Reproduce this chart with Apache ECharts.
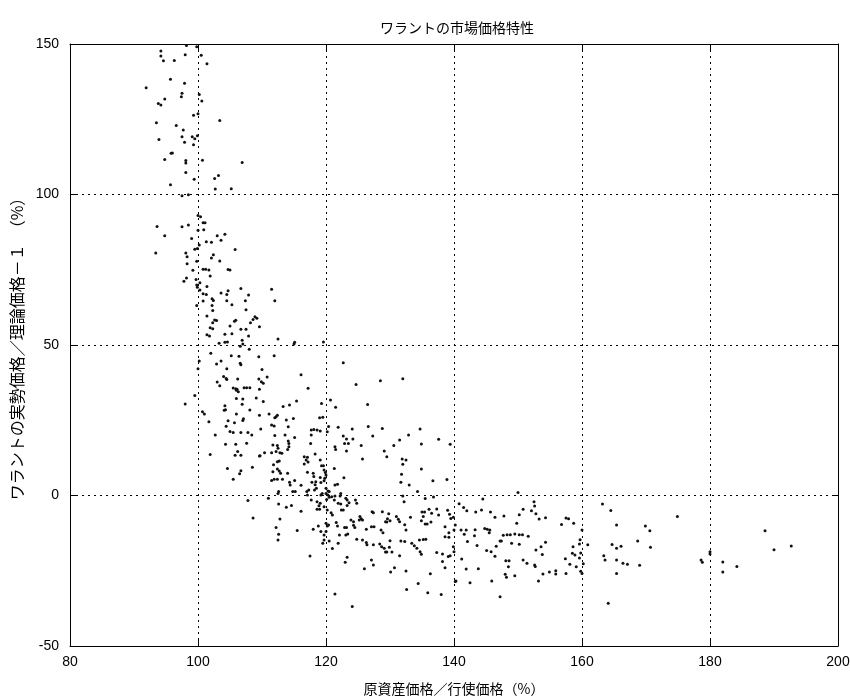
<!DOCTYPE html>
<html>
<head>
<meta charset="utf-8">
<script src="https://cdn.jsdelivr.net/npm/echarts@6/dist/echarts.min.js"></script>
<style>
html,body{margin:0;padding:0;background:#fff;}
#chart{width:850px;height:698px;}
</style>
</head>
<body>
<div id="chart"></div>
<script>
// Texts
var chartTitle = 'ワラントの市場価格特性';
var xAxisName = '原資産価格／行使価格（%）';
var yAxisName = 'ワラントの実勢価格／理論価格－１　（%）';

// Axis ranges / ticks
var xTicks = [80, 100, 120, 140, 160, 180, 200];
var yTicks = [-50, 0, 50, 100, 150];

// Data points [underlying/exercise %, market/theoretical - 1 %], grouped by region
var pointsHigh = [[98.2,149.5],[99.8,149.1],[94.2,147.7],[94.2,146],[94.6,144.4],[98.0,146.4],[96.3,144.5],[100.5,146.3],[101.4,143.4],[95.7,138.3],[97.9,137],[91.9,135.5],[97.5,133.6],[97.4,132.5],[100.2,133.2],[100.6,131.1],[94.8,131.7],[93.8,130.2],[94.2,129.7],[99.3,126.3],[100,126.8],[103.4,124.6],[93.5,123.8],[96.6,122.9],[97.7,121.4],[97.5,119.2],[93.9,118.3],[99.1,119.2],[99.5,118.5],[99.9,119.5],[97.9,117.4],[99.3,116.5],[95.8,113.7],[96.0,113.8],[94.8,111.6],[98.1,111.3],[98.1,110.5],[100.7,111.4],[106.9,110.6],[98.1,107.3],[103.2,106.3],[102.6,105.3],[99.4,105.1],[95.7,103.2],[102.7,101.8],[105.2,101.9],[97.5,99.6],[98.5,99.9]];

var pointsUpper = [[100.0,93.0],[100.4,92.6],[100.8,90.6],[101.1,90.6],[93.6,89.4],[97.5,89.3],[98.5,89.9],[94.8,86.3],[100,88.1],[100.9,88.3],[103.0,86.3],[104.2,86.8],[99.0,85.4],[101.3,84.3],[102.1,84.1],[103.6,84.8],[100.2,83.2],[99.9,82.1],[99.5,81.8],[105.8,81.7],[93.4,80.6],[98.1,80.6],[98.3,79.3],[102.4,80.0],[102.1,78.9],[99.8,77.8],[103.4,77.9],[98.3,77.0],[100.8,75.2],[101.2,75.2],[101.7,74.9],[104.7,75.1],[105.0,74.9],[99.2,74.8],[101.9,72.9],[98.2,72.3],[97.8,71.2],[99.7,71.8],[100.3,70.7],[99.8,69.9],[99.9,69.2],[101.4,69.4],[106.7,68.8],[100.3,68.3],[100.8,67.0],[101.3,66.8],[103.6,67.3],[104.5,66.8],[104.7,68.0],[107.9,66.6],[102.2,65.4],[102.4,64.8],[100.8,64.6],[104.5,64.7],[107.4,64.7],[105.3,63.4],[102.2,63.1],[99.8,63.1],[102.3,61.5],[107.5,61.7],[101.4,59.6],[102.6,58.3],[102.9,58.1],[102.3,57.4],[105.0,56.3],[105.9,58.2],[105.7,57.9],[108.2,57.4],[108.6,58.5],[108.9,59.4],[109.2,58.9],[109.6,56.1],[101.9,55.7],[102.3,55.4],[106.7,55.2],[107.5,55.2],[101.4,53.4],[101.8,53.0],[104.2,53.6],[105.3,53.7],[107.9,53.0],[106.9,51.6],[103.3,50.6],[104.2,50.9],[104.6,51.0],[106.6,49.6],[107.0,50.3],[108.0,48.6],[102.0,47.3],[105.2,46.4],[106.4,46.3],[109.5,46.1]];

var pointsMidLeft = [[100.2,44.7],[100.0,42.1],[102.9,43.7],[103.6,44.7],[106.6,43.9],[106.7,43.4],[104.5,42.1],[104.0,39.5],[104.4,38.9],[104.5,38.5],[106.2,38.7],[109.5,38.7],[103.0,37.7],[103.4,36.5],[105.5,35.7],[105.9,35.5],[106.1,35.3],[106.3,34.5],[106.0,35.0],[107.2,35.8],[107.6,35.8],[108.1,35.8],[109.6,35.3],[99.5,33.2],[98.0,30.4],[106.0,32.2],[107.0,32.1],[106.9,30.3],[104.2,29.8],[104.1,28.3],[104.3,28.5],[108.1,28.4],[100.7,27.8],[101.0,27.1],[106.0,27.1],[109.6,26.7],[107.1,25.5],[107.0,24.9],[101.7,24.5],[104.7,24.8],[105.7,24.2],[104.4,23.0],[105.0,21.3],[105.5,20.9],[106.7,20.9],[107.8,20.9],[108.4,20.1],[102.7,20.1],[104.3,17.0],[105.9,17.0],[107.6,17.4],[101.9,13.6],[105.8,13.4],[106.2,14.6],[106.7,13.4],[109.6,13.1],[104.6,9.0],[108.5,9.4],[106.7,8.2],[106.5,7.2],[105.5,5.4],[107.8,-1.7],[108.6,-7.5]];

var pointsMid = [[112.0,64.7],[111.5,68.5],[112.5,52.0],[115.1,50.9],[115.0,50.3],[119.6,51.0],[111.9,46.4],[110.0,41.9],[110.8,39.4],[109.9,37.8],[110.2,37.3],[116.1,40.1],[117.2,35.6],[122.7,44.1],[128.5,38.1],[124.7,36.9],[132.0,38.8],[109.1,32.4],[110.2,31.2],[115.4,31.4],[114.3,30.1],[113.3,29.6],[120.7,31.7],[119.3,30.6],[121.5,29.3],[126.5,30.2],[111.1,27.1],[112.4,26.7],[112.2,26.2],[112.0,25.8],[113.8,25.1],[114.9,25.6],[119.0,25.8],[119.5,26.0],[109.8,22.1],[111.5,23.4],[111.9,23.1],[114.1,22.8],[117.7,21.8],[118.1,21.9],[118.6,21.8],[117.7,20.1],[119.1,21.4],[120.4,22.9],[120.2,21.2],[121.9,22.7],[124.1,22.1],[126.6,22.9],[127.3,19.8],[128.8,22.3],[112.0,19.9],[113.6,20.1],[115.1,19.3],[111.7,16.8],[112.4,16.6],[112.5,15.7],[112.2,14.6],[114.1,18.1],[114.2,17.3],[114.2,16.2],[114.0,15.3],[110.4,14.2],[109.7,13.2],[111.5,14.2],[112.8,14.2],[113.1,14.0],[116.6,12.9],[117.1,12.7],[117.6,17.3],[118.3,13.8],[122.7,19.8],[122.9,17.3],[123.5,17.3],[123.2,18.8],[124.2,18.8],[121.4,16.2],[121.5,15.3],[123.2,14.8],[125.5,16.6],[129.1,14.8],[129.5,12.9],[130.6,16.6],[125.7,12.1],[131.5,18.4]];

var pointsCore = [[112.4,11.2],[112.7,11.5],[111.8,10.2],[111.7,7.9],[112.4,8.8],[112.7,8.1],[112.9,7.4],[111.5,5.0],[111.9,5.4],[112.4,5.4],[113.2,5.4],[114.3,4.4],[114.4,3.5],[114.0,7.4],[115.1,5.0],[112.6,1.3],[112.5,0.7],[114.8,1.3],[115.2,1.3],[111.0,-0.9],[112.6,-2.8],[113.8,-3.9],[114.6,-3.3],[112.8,-7.8],[112.2,-10.6],[112.6,-12.9],[112.5,-14.8],[116.1,-5.2],[115.5,-11.6],[116.9,11.8],[116.6,10.5],[117.2,11.1],[119.1,11.8],[119.3,9.9],[119.6,9.9],[117.1,7.7],[118.0,7.4],[118.1,6.3],[119.7,8.5],[119.9,7.6],[120.0,6.8],[119.8,5.7],[119.7,4.9],[117.8,4.4],[118.4,4.6],[118.3,3.6],[119.1,6.0],[119.2,4.3],[116.1,3.4],[117.0,1.3],[117.3,1.8],[118.2,1.8],[118.5,2.4],[119.2,0.2],[119.4,0.7],[120.0,2.4],[120.3,1.5],[120.5,1.3],[120.0,0.7],[120.3,0.2],[120.5,-0.6],[120.9,-0.4],[120.1,-1.3],[121.4,3.5],[121.8,3.7],[121.3,9.0],[122.8,5.9],[122.3,0.7],[122.2,-0.2],[121.4,-0.2],[121.3,-1.5],[121.9,-2.6],[122.3,-2.8],[123.1,-0.9],[118.6,-2.1],[119.1,-2.6],[118.9,-3.4],[118.6,-4.6],[119.0,-4.6],[117.7,-1.5],[117.1,0.2],[119.7,-3.7],[120.2,-4.8],[120.8,-5.7],[121.0,-6.5],[122.4,-4.8],[122.7,-4.8],[123.3,-1.5],[123.6,-2.4],[123.3,-3.3],[124.6,-1.5],[124.8,-2.6],[125.3,-7.0],[125.5,-7.7],[125.7,-8.1],[125.2,-8.1],[127.2,-5.4],[127.4,-5.7],[128.8,-5.4],[129.8,-6.1],[129.6,-7.7],[130.0,-8.4],[129.5,-8.8],[129.3,-8.7],[131.0,-7.0],[131.3,-7.9],[131.5,-8.7],[120.0,-9.2],[120.2,-10.1],[120.0,-12.0],[120.4,-9.8],[121.6,-9.0],[121.8,-10.1],[118.8,-10.1],[118.0,-11.2],[119.2,-12.0],[122.9,-10.6],[123.2,-10.6],[123.9,-8.1],[124.3,-8.7],[124.3,-9.9],[124.5,-10.6],[122.1,-13.1],[123.1,-13.1],[123.4,-12.8],[126.3,-11.2],[127.1,-10.4],[127.5,-10.4],[128.6,-11.5],[128.9,-12.4],[119.7,-13.1],[119.7,-14.8],[119.5,-15.9],[120.5,-15.1],[121.0,-17.6],[121.9,-15.9],[124.8,-14.5],[125.7,-14.8],[126.3,-15.6],[126.4,-16.4],[127.4,-16.4],[128.4,-16.1],[128.7,-17.0],[129.1,-17.5],[129.3,-18.8],[129.5,-18.8],[129.9,-17.2],[130.3,-18.8],[131.5,-20.0],[130.0,-15.0],[117.5,-20.1],[123.3,-20.5],[123.0,-22.2],[127.1,-21.4],[127.4,-23.1],[126.0,-24.3],[130.7,-24.0],[130.1,-25.4],[121.4,-32.7],[124.1,-36.9]];

var pointsRight = [[132.9,20.1],[134.7,22.1],[134.9,17.1],[137.6,18.7],[139.4,17.0],[131.9,12.1],[132.5,11.8],[132.0,10.4],[131.8,7.1],[131.7,4.4],[134.9,8.8],[133.0,3.5],[136.7,4.9],[138.9,5.3],[134.3,1.3],[132.0,-0.2],[132.2,-2.1],[135.5,-1.0],[136.8,-0.5],[140.8,-2.7],[141.5,-4.0],[142.0,-5.1],[143.4,-5.5],[144.3,-4.8],[144.5,-1.2],[145.7,-5.5],[146.4,-7.2],[147.8,-6.8],[150.0,1.0],[149.8,-9.2],[150.2,-6.4],[150.8,-4.6],[152.1,-5.1],[152.5,-2.1],[152.6,-3.5],[152.8,-6.1],[153.3,-7.8],[154.3,-7.4],[156.8,-9.6],[157.5,-7.5],[157.9,-7.7],[158.7,-9.2],[133.2,-7.2],[132.3,-9.7],[132.5,-11.5],[135.0,-5.5],[135.4,-5.5],[135.2,-7.0],[134.9,-8.4],[135.5,-9.5],[135.8,-9.5],[136.4,-8.8],[136.1,-4.6],[136.5,-5.9],[137.3,-4.5],[137.6,-6.5],[139.0,-4.9],[139.3,-6.2],[139.5,-7.6],[139.9,-7.2],[138.6,-10.4],[139.2,-12.4],[138.6,-13.7],[139.2,-13.9],[140.2,-9.8],[140.0,-11.5],[141.1,-11.5],[141.9,-11.5],[141.6,-12.9],[142.1,-15.3],[143.3,-11.4],[143.2,-13.4],[143.6,-16.6],[144.8,-11.0],[145.2,-11.2],[145.5,-12.4],[145.6,-11.5],[146.6,-16.9],[147.2,-15.1],[147.4,-15.1],[145.8,-18.7],[145.1,-18.3],[146.4,-20.2],[147.7,-13.2],[148.3,-13.0],[148.8,-13.0],[149.5,-12.8],[150.2,-13.0],[150.7,-13.0],[151.6,-13.5],[149.0,-15.9],[150.2,-16.2],[148.1,-21.7],[148.6,-21.7],[148.5,-23.7],[149.5,-26.7],[148.0,-26.2],[148.2,-27.2],[150.8,-21.4],[151.4,-22.5],[152.8,-18.1],[153.6,-17.0],[154.3,-15.5],[153.8,-19.6],[152.6,-23.1],[152.7,-23.6],[153.2,-28.4],[153.9,-26.1],[154.9,-25.4],[155.9,-25.0],[155.9,-26.1],[157.4,-21.0],[157.5,-25.9],[158.1,-22.8],[158.5,-19.2],[158.6,-17.0],[158.9,-19.8],[159.1,-23.7],[159.6,-20.8],[159.8,-19.1],[159.7,-14.7],[160.2,-22.7],[159.8,-25.2],[160.0,-25.9],[160.0,-11.5],[159.6,-16.1],[160.9,-16.4],[163.2,-2.8],[164.5,-5.0],[165.4,-9.8],[164.7,-16.3],[165.4,-17.5],[163.4,-20.0],[163.6,-21.4],[165.4,-21.4],[165.4,-25.9],[164.1,-35.8],[147.2,-33.6],[145.9,-28.4],[142.5,-29.0],[141.9,-24.4],[143.8,-24.3],[140.3,-28.4],[136.3,-26.0],[134.4,-29.2],[135.9,-32.3],[138.0,-32.9],[132.5,-25.1],[132.6,-31.2],[137.3,-18.9],[138.2,-19.4],[138.2,-21.9],[138.6,-24.0],[139.1,-20.3],[139.4,-20.0],[139.9,-17.0],[140.0,-18.7],[140.2,-28.6],[141.2,-21.1],[133.4,-15.9],[133.8,-16.7],[134.2,-17.5],[134.7,-18.7],[134.9,-19.5],[134.6,-14.8],[135.2,-14.6],[135.6,-14.5],[131.7,-15.1],[132.3,-15.3]];

var pointsFar = [[166.1,-16.9],[166.4,-22.5],[167.1,-22.8],[168.7,-15.1],[169.0,-23.2],[169.9,-10.1],[170.6,-11.7],[170.7,-17.2],[174.9,-7.0],[178.6,-21.4],[178.8,-22.2],[180.0,-18.7],[180.0,-19.4],[182.0,-22.1],[182.0,-25.4],[184.2,-23.6],[188.6,-11.7],[190.0,-18.0],[192.7,-16.8]];

var allPoints = [].concat(pointsHigh, pointsUpper, pointsMidLeft, pointsMid, pointsCore, pointsRight, pointsFar);

var numFont = '"Liberation Sans", sans-serif';
var cjkFont = '"Noto Sans CJK JP", sans-serif';
var gridLine = {show: true, lineStyle: {color: '#000', width: 1, type: [2, 4]}};
var frameLine = {show: true, onZero: false, lineStyle: {color: '#000', width: 1}};
var innerTick = {show: true, inside: true, length: 6, lineStyle: {color: '#000', width: 1}};

var xMin = xTicks[0], xMax = xTicks[xTicks.length - 1], xStep = xTicks[1] - xTicks[0];
var yMin = yTicks[0], yMax = yTicks[yTicks.length - 1], yStep = yTicks[1] - yTicks[0];

var chart = echarts.init(document.getElementById('chart'), null, {renderer: 'canvas'});
chart.setOption({
  animation: false,
  backgroundColor: '#fff',
  title: {
    text: chartTitle,
    left: 452,
    top: 16,
    textAlign: 'center',
    textStyle: {fontFamily: cjkFont, fontSize: 14, fontWeight: 'normal', color: '#000'}
  },
  grid: {left: 70, right: 12, top: 44, bottom: 52, containLabel: false, outerBoundsMode: 'none'},
  xAxis: [{
    type: 'value', min: xMin, max: xMax, interval: xStep, position: 'bottom',
    axisLine: frameLine, axisTick: innerTick, splitLine: gridLine,
    axisLabel: {color: '#000', fontSize: 14, fontFamily: numFont, margin: 9},
    name: xAxisName, nameLocation: 'middle', nameGap: 36,
    nameTextStyle: {fontFamily: cjkFont, fontSize: 14, color: '#000'}
  }, {
    type: 'value', min: xMin, max: xMax, interval: xStep, position: 'top',
    axisLine: frameLine, axisTick: innerTick, splitLine: {show: false},
    axisLabel: {show: false}
  }],
  yAxis: [{
    type: 'value', min: yMin, max: yMax, interval: yStep, position: 'left',
    axisLine: frameLine, axisTick: innerTick, splitLine: gridLine,
    axisLabel: {color: '#000', fontSize: 14, fontFamily: numFont, margin: 11},
    name: yAxisName, nameLocation: 'middle', nameGap: 45,
    nameTextStyle: {fontFamily: cjkFont, fontSize: 16, color: '#000'}
  }, {
    type: 'value', min: yMin, max: yMax, interval: yStep, position: 'right',
    axisLine: frameLine, axisTick: innerTick, splitLine: {show: false},
    axisLabel: {show: false}
  }],
  series: [{
    type: 'scatter',
    xAxisIndex: 0, yAxisIndex: 0,
    data: allPoints,
    symbol: 'circle',
    symbolSize: 3,
    itemStyle: {color: '#111', opacity: 1},
    clip: true,
    silent: true
  }]
});
</script>
</body>
</html>
